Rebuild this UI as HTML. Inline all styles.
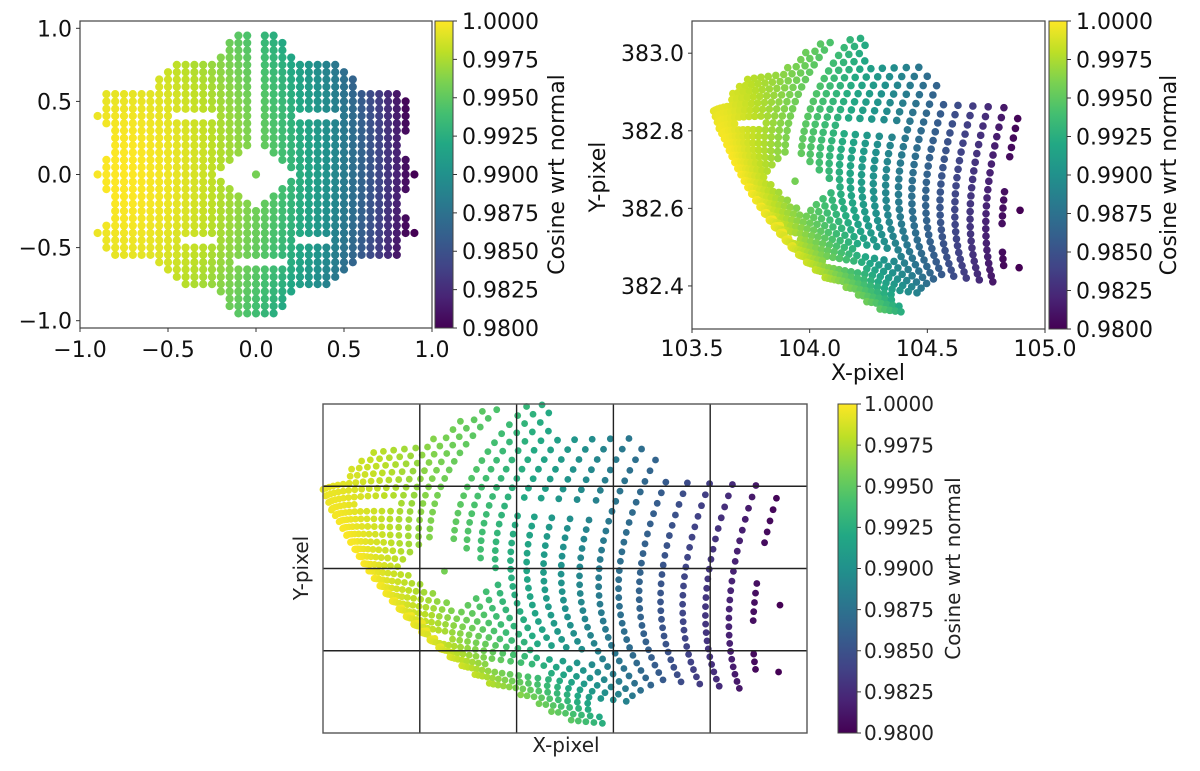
<!DOCTYPE html>
<html><head><meta charset="utf-8"><style>
html,body{margin:0;padding:0;background:#fff;}
svg{display:block;font-family:"DejaVu Sans","Liberation Sans",sans-serif;}
</style></head><body>
<svg id="fig" width="1200" height="771" viewBox="0 0 1200 771" xmlns="http://www.w3.org/2000/svg">
<defs>
<linearGradient id="vir" x1="0" y1="1" x2="0" y2="0">
<stop offset="0" stop-color="#440154"/><stop offset="0.1" stop-color="#482475"/><stop offset="0.2" stop-color="#414487"/><stop offset="0.3" stop-color="#355f8d"/><stop offset="0.4" stop-color="#2a788e"/><stop offset="0.5" stop-color="#21918c"/><stop offset="0.6" stop-color="#22a884"/><stop offset="0.7" stop-color="#44bf70"/><stop offset="0.8" stop-color="#7ad151"/><stop offset="0.9" stop-color="#bddf26"/><stop offset="1" stop-color="#fde725"/>
</linearGradient>
</defs>
</svg>
<script>
const gridStep = 0.05;
const rowIndex = [19,18,17,16,15,14,13,12,11,10,9,8,7,6,5,4,3,2,1,0,-1,-2,-3,-4,-5,-6,-7,-8,-9,-10,-11,-12,-13,-14,-15,-16,-17,-18,-19];
const rowSegments = [
 [[-2,-1],[1,2]],[[-3,-1],[1,3]],[[-3,-1],[1,3]],[[-4,-1],[1,4]],[[-9,-1],[1,9]],[[-10,-1],[1,10]],
 [[-11,-1],[1,11]],[[-11,-1],[1,11]],[[-17,-1],[1,16]],[[-17,-1],[1,17]],[[-17,-1],[1,17]],
 [[-18,-18],[-17,-10],[-4,-1],[1,4],[10,17]],[[-17,-1],[1,17]],[[-16,-1],[1,17]],[[-16,-1],[1,16]],
 [[-16,-1],[1,16]],[[-16,-2],[2,16]],[[-17,-3],[3,17]],[[-17,-4],[4,17]],[[-18,-5],[0,0],[5,18]],
 [[-17,-4],[4,17]],[[-17,-3],[3,17]],[[-16,-2],[2,16]],[[-16,-1],[1,16]],[[-16,16]],[[-16,17]],[[-17,17]],
 [[-18,-18],[-17,17],[18,18]],[[-17,-9],[-4,4],[9,16]],[[-17,16]],[[-16,16]],[[-11,-3],[4,11]],
 [[-10,10]],[[-9,9]],[[-8,8]],[[-4,4]],[[-3,3]],[[-3,3]],[[-2,2]]
];
const tiltCentre = [-0.75, 0];
const tiltScale = [0.0075, 0.00225];
const ctrlU = [-0.9, 0, 0.9];
const ctrlV = [0.95, 0, -0.95];
const ctrlPx = [[103.534,104.129,105.064],[103.725,103.938,104.894],[104.15,104.341,104.95]];
const ctrlPy = [[382.956,383.031,383.085],[382.685,382.670,382.595],[382.363,382.337,382.30]];
const tlXTicks = [-1,-0.5,0,0.5,1];
const tlYTicks = [-1,-0.5,0,0.5,1];
const trXTicks = [103.5,104.0,104.5,105.0];
const trYTicks = [382.4,382.6,382.8,383.0];
const cbTicks = [0.98,0.9825,0.985,0.9875,0.99,0.9925,0.995,0.9975,1.0];

const NS="http://www.w3.org/2000/svg";
const svg=document.getElementById('fig');
function mk(tag,attrs,parent){const e=document.createElementNS(NS,tag);for(const k in attrs)e.setAttribute(k,attrs[k]);(parent||svg).appendChild(e);return e;}
const vstops=[[0,[68,1,84]],[.1,[72,36,117]],[.2,[65,68,135]],[.3,[53,95,141]],[.4,[42,120,142]],[.5,[33,145,140]],[.6,[34,168,132]],[.7,[68,191,112]],[.8,[122,209,81]],[.9,[189,223,38]],[1,[253,231,37]]];
function viridis(t){t=Math.max(0,Math.min(1,t));for(let k=1;k<vstops.length;k++){if(t<=vstops[k][0]){const a=vstops[k-1],b=vstops[k];const f=(t-a[0])/(b[0]-a[0]);const c=a[1].map((v,i)=>Math.round(v+(b[1][i]-v)*f));return `rgb(${c})`;}}return 'rgb(253,231,37)';}
const cmin=0.98,cmax=1.0;

const pts=[];
rowIndex.forEach((j,r)=>{rowSegments[r].forEach(seg=>{for(let i=seg[0];i<=seg[1];i++){
  const x=i*gridStep,y=j*gridStep;
  const v=1-tiltScale[0]*Math.pow(x-tiltCentre[0],2)-tiltScale[1]*Math.pow(y-tiltCentre[1],2);
  pts.push({x,y,v});}});});
function lag(nodes,t){return nodes.map((n,k)=>{let p=1;nodes.forEach((m,l)=>{if(l!==k)p*=(t-m)/(n-m);});return p;});}
function mapPix(x,y){const wu=lag(ctrlU,x),wv=lag(ctrlV,y);let px=0,py=0;
  for(let a=0;a<3;a++)for(let b=0;b<3;b++){px+=wv[a]*wu[b]*ctrlPx[a][b];py+=wv[a]*wu[b]*ctrlPy[a][b];}return [px,py];}
pts.forEach(p=>{const m=mapPix(p.x,p.y);p.px=m[0];p.py=m[1];});

function fmtMinus(s){return s.replace('-','\u2212');}
function text(str,x,y,attrs,name){const t=mk('text',Object.assign({x:x,y:y},attrs));t.textContent=str;
  
  
  return t;}

function colorbar(x,y,w,h,lx,fs,titleX,fill,prefix){
  const g=mk('g',{});
  
  
  mk('rect',{x:x,y:y,width:w,height:h,fill:'url(#vir)',stroke:'#444','stroke-width':1},g);
  cbTicks.forEach(tv=>{const ty=y+h-(tv-cmin)/(cmax-cmin)*h;
    mk('line',{x1:x+w,x2:x+w+4,y1:ty,y2:ty,stroke:'#333','stroke-width':1},g);
    text(tv.toFixed(4),lx,ty+fs*0.36,{'font-size':fs,fill:fill},prefix+'-colorbar-tick-label');});
  text('Cosine wrt normal',0,0,{'font-size':fs,fill:fill,'text-anchor':'middle',transform:`translate(${titleX},${y+h/2}) rotate(-90)`},prefix+'-colorbar-title');
}

(function(){
  const L=80,R=432,T=21,B=328,x0=-1,x1=1,y0=-1.05,y1=1.05;
  const sx=v=>L+(v-x0)/(x1-x0)*(R-L), sy=v=>B-(v-y0)/(y1-y0)*(B-T);
  const g=mk('g',{});
  
  
  pts.forEach(p=>{const c=mk('circle',{cx:sx(p.x),cy:sy(p.y),r:4.1,fill:viridis((p.v-cmin)/(cmax-cmin))},g);
    
    });
  const fr=mk('rect',{x:L,y:T,width:R-L,height:B-T,fill:'none',stroke:'#444','stroke-width':1.2});
  
  
  tlXTicks.forEach(v=>{mk('line',{x1:sx(v),x2:sx(v),y1:B,y2:B+4,stroke:'#333'});
    text(fmtMinus(v.toFixed(1)),sx(v),357,{'font-size':22,'text-anchor':'middle',fill:'#111'},'x-tick-label');});
  tlYTicks.forEach(v=>{mk('line',{x1:L-4,x2:L,y1:sy(v),y2:sy(v),stroke:'#333'});
    text(fmtMinus(v.toFixed(1)),72,sy(v)+8,{'font-size':22,'text-anchor':'end',fill:'#111'},'y-tick-label');});
  colorbar(435,T,18,B-T,462,22,564,'#111','top-left');
})();

(function(){
  const L=692,R=1045,T=21,B=329,x0=103.5,x1=105.0,y0=382.289,y1=383.083;
  const sx=v=>L+(v-x0)/(x1-x0)*(R-L), sy=v=>B-(v-y0)/(y1-y0)*(B-T);
  const g=mk('g',{});
  
  
  pts.forEach(p=>{const c=mk('circle',{cx:sx(p.px),cy:sy(p.py),r:3.8,fill:viridis((p.v-cmin)/(cmax-cmin))},g);
    
    });
  const fr=mk('rect',{x:L,y:T,width:R-L,height:B-T,fill:'none',stroke:'#444','stroke-width':1.2});
  
  
  trXTicks.forEach(v=>{mk('line',{x1:sx(v),x2:sx(v),y1:B,y2:B+4,stroke:'#333'});
    text(v.toFixed(1),sx(v),356,{'font-size':22,'text-anchor':'middle',fill:'#111'},'x-tick-label');});
  trYTicks.forEach(v=>{mk('line',{x1:L-4,x2:L,y1:sy(v),y2:sy(v),stroke:'#333'});
    text(v.toFixed(1),684,sy(v)+8,{'font-size':22,'text-anchor':'end',fill:'#111'},'y-tick-label');});
  text('X-pixel',868,380,{'font-size':22,'text-anchor':'middle',fill:'#111'},'x-axis-title');
  text('Y-pixel',0,0,{'font-size':22,'text-anchor':'middle',fill:'#111',transform:'translate(605,177) rotate(-90)'},'y-axis-title');
  colorbar(1049,T,18,B-T,1076,22,1176,'#111','top-right');
})();

(function(){
  const L=323,R=807,T=404,B=733,x0=103.592,x1=104.971,y0=382.312,y1=383.040;
  const sx=v=>L+(v-x0)/(x1-x0)*(R-L), sy=v=>B-(v-y0)/(y1-y0)*(B-T);
  const g=mk('g',{});
  
  
  pts.forEach(p=>{const c=mk('circle',{cx:sx(p.px),cy:sy(p.py),r:3.4,fill:viridis((p.v-cmin)/(cmax-cmin))},g);
    
    });
  for(let k=1;k<5;k++){const x=L+k*(R-L)/5;const l=mk('line',{x1:x,x2:x,y1:T,y2:B,stroke:'#222','stroke-width':1.4});
    
    }
  for(let k=1;k<4;k++){const y=T+k*(B-T)/4;const l=mk('line',{x1:L,x2:R,y1:y,y2:y,stroke:'#222','stroke-width':1.4});
    
    }
  const fr=mk('rect',{x:L,y:T,width:R-L,height:B-T,fill:'none',stroke:'#555','stroke-width':1.4});
  
  
  text('X-pixel',566,752,{'font-size':20,'text-anchor':'middle',fill:'#222'},'x-axis-title');
  text('Y-pixel',0,0,{'font-size':20,'text-anchor':'middle',fill:'#222',transform:'translate(308,568) rotate(-90)'},'y-axis-title');
  colorbar(838,T,19,B-T,864,20,960,'#222','bottom');
})();
</script>
</body></html>
